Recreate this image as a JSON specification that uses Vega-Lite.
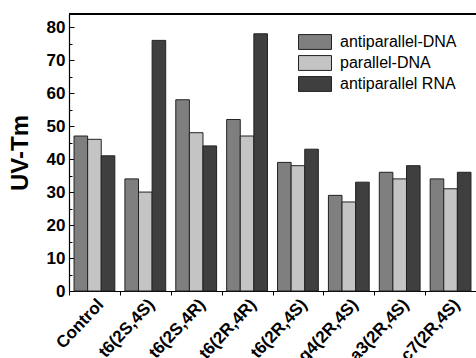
{
  "$schema": "https://vega.github.io/schema/vega-lite/v6.json",
  "autosize": {"type": "none"},
  "padding": {"left": 69, "top": 14, "right": 0, "bottom": 67},
  "width": 407,
  "height": 277,
  "background": "white",
  "config": {
    "view": {"stroke": null},
    "font": "Liberation Sans"
  },
  "data": {
    "values": [
      {"category": "Control", "series": "antiparallel-DNA", "value": 47},
      {"category": "Control", "series": "parallel-DNA", "value": 46},
      {"category": "Control", "series": "antiparallel RNA", "value": 41},
      {"category": "t6(2S,4S)", "series": "antiparallel-DNA", "value": 34},
      {"category": "t6(2S,4S)", "series": "parallel-DNA", "value": 30},
      {"category": "t6(2S,4S)", "series": "antiparallel RNA", "value": 76},
      {"category": "t6(2S,4R)", "series": "antiparallel-DNA", "value": 58},
      {"category": "t6(2S,4R)", "series": "parallel-DNA", "value": 48},
      {"category": "t6(2S,4R)", "series": "antiparallel RNA", "value": 44},
      {"category": "t6(2R,4R)", "series": "antiparallel-DNA", "value": 52},
      {"category": "t6(2R,4R)", "series": "parallel-DNA", "value": 47},
      {"category": "t6(2R,4R)", "series": "antiparallel RNA", "value": 78},
      {"category": "t6(2R,4S)", "series": "antiparallel-DNA", "value": 39},
      {"category": "t6(2R,4S)", "series": "parallel-DNA", "value": 38},
      {"category": "t6(2R,4S)", "series": "antiparallel RNA", "value": 43},
      {"category": "g4(2R,4S)", "series": "antiparallel-DNA", "value": 29},
      {"category": "g4(2R,4S)", "series": "parallel-DNA", "value": 27},
      {"category": "g4(2R,4S)", "series": "antiparallel RNA", "value": 33},
      {"category": "a3(2R,4S)", "series": "antiparallel-DNA", "value": 36},
      {"category": "a3(2R,4S)", "series": "parallel-DNA", "value": 34},
      {"category": "a3(2R,4S)", "series": "antiparallel RNA", "value": 38},
      {"category": "c7(2R,4S)", "series": "antiparallel-DNA", "value": 34},
      {"category": "c7(2R,4S)", "series": "parallel-DNA", "value": 31},
      {"category": "c7(2R,4S)", "series": "antiparallel RNA", "value": 36}
    ]
  },
  "resolve": {"axis": {"y": "independent"}},
  "layer": [
    {
      "mark": {"type": "bar", "stroke": "#222222", "strokeWidth": 1},
      "encoding": {
        "x": {
          "field": "category", "type": "nominal", "sort": null,
          "scale": {"paddingInner": 0, "paddingOuter": 0},
          "axis": {
            "title": null, "labelAngle": -47, "labelAlign": "right", "labelBaseline": "top",
            "labelFontSize": 17, "labelFontWeight": "bold", "labelColor": "#000000",
            "labelPadding": 1, "labelDx": 6,
            "tickBand": "extent", "tickSize": 4, "tickColor": "#000000",
            "domainColor": "#000000", "domainWidth": 1.2
          }
        },
        "xOffset": {
          "field": "series", "type": "nominal", "sort": ["antiparallel-DNA", "parallel-DNA", "antiparallel RNA"],
          "scale": {"paddingInner": 0, "paddingOuter": 0.37}
        },
        "y": {
          "field": "value", "type": "quantitative",
          "scale": {"domain": [0, 84], "nice": false},
          "axis": {
            "orient": "left",
            "title": "UV-Tm", "titleFontSize": 24, "titleFontWeight": "bold", "titleColor": "#000000",
            "titlePadding": 14,
            "values": [0, 10, 20, 30, 40, 50, 60, 70, 80],
            "labelFontSize": 17, "labelFontWeight": "bold", "labelColor": "#000000",
            "labelPadding": 9, "tickSize": -5, "tickColor": "#000000", "grid": false,
            "domainColor": "#000000", "domainWidth": 1.2
          }
        },
        "color": {
          "field": "series", "type": "nominal",
          "sort": ["antiparallel-DNA", "parallel-DNA", "antiparallel RNA"],
          "scale": {"domain": ["antiparallel-DNA", "parallel-DNA", "antiparallel RNA"], "range": ["#7f7f7f", "#c4c4c4", "#3f3f3f"]},
          "legend": {
            "title": null, "orient": "none", "legendX": 229, "legendY": 17.5, "padding": 0,
            "symbolType": "M-1,-0.45H1V0.45H-1Z", "symbolSize": 1089, "symbolStrokeColor": "#222222", "symbolStrokeWidth": 1,
            "symbolOpacity": 1, "clipHeight": 21, "rowPadding": 0,
            "labelFontSize": 16, "labelColor": "#000000", "labelOffset": 8
          }
        }
      }
    },
    {
      "mark": {"type": "rule", "color": "#000000", "strokeWidth": 1.2},
      "encoding": {
        "y": {
          "datum": 84,
          "axis": {
            "orient": "left", "title": null, "labels": false, "domain": false, "grid": false,
            "values": [5, 15, 25, 35, 45, 55, 65, 75],
            "tickSize": -3, "tickColor": "#000000"
          }
        }
      }
    }
  ]
}
